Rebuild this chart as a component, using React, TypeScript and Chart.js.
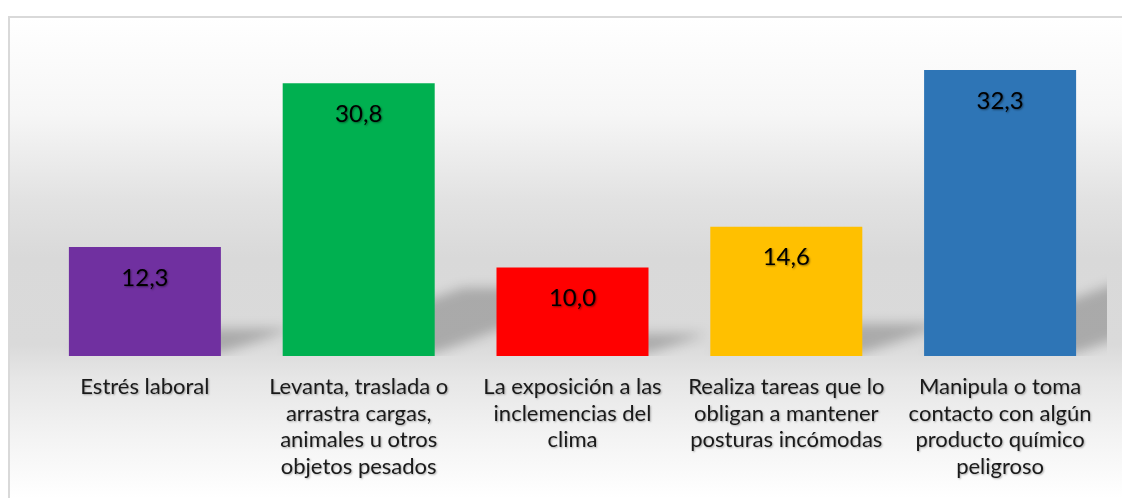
import React, { useEffect, useRef } from "react";
import { Chart, registerables } from "chart.js";

Chart.register(...registerables);

const categories: string[][] = [
  ["Estrés laboral"],
  ["Levanta, traslada o", "arrastra cargas,", "animales u otros", "objetos pesados"],
  ["La exposición a las", "inclemencias del", "clima"],
  ["Realiza tareas que lo", "obligan a mantener", "posturas incómodas"],
  ["Manipula o toma", "contacto con algún", "producto químico", "peligroso"],
];
const values: number[] = [12.3, 30.8, 10.0, 14.6, 32.3];
const valueLabels: string[] = ["12,3", "30,8", "10,0", "14,6", "32,3"];
const barColors: string[] = ["#7030a0", "#00b050", "#ff0000", "#ffc000", "#2e75b6"];

const FONT = "Lato, 'Noto Sans', sans-serif";

const shadowPlugin = {
  id: "perspShadow",
  beforeDatasetsDraw(chart: any) {
    const { ctx, chartArea } = chart;
    const meta = chart.getDatasetMeta(0);
    ctx.save();
    ctx.beginPath();
    ctx.rect(chartArea.left, chartArea.top, chartArea.right - chartArea.left, chartArea.bottom - chartArea.top);
    ctx.clip();
    ctx.filter = "blur(6px)";
    ctx.fillStyle = "rgba(0,0,0,0.22)";
    meta.data.forEach((bar: any) => {
      const p = bar.getProps(["x", "y", "base", "width"], true);
      const L = p.x - p.width / 2;
      const R = p.x + p.width / 2;
      const h = p.base - p.y;
      const kh = h * 0.25;
      const d = h * 0.66;
      ctx.beginPath();
      ctx.moveTo(L, p.base - 3);
      ctx.lineTo(R, p.base - 3);
      ctx.lineTo(R + d, p.base - kh);
      ctx.lineTo(L + d, p.base - kh);
      ctx.closePath();
      ctx.fill();
    });
    ctx.restore();
  },
};

const labelPlugin = {
  id: "labelsDraw",
  afterDatasetsDraw(chart: any) {
    const { ctx, chartArea } = chart;
    const meta = chart.getDatasetMeta(0);
    const xScale = chart.scales.x;
    ctx.save();
    ctx.textAlign = "center";
    ctx.textBaseline = "middle";
    ctx.shadowColor = "rgba(0,0,0,0.45)";
    ctx.shadowBlur = 2;
    ctx.shadowOffsetX = 1;
    ctx.shadowOffsetY = 1;
    ctx.fillStyle = "#000000";
    ctx.font = `24px ${FONT}`;
    meta.data.forEach((bar: any, i: number) => {
      const p = bar.getProps(["x", "y"], true);
      ctx.fillText(valueLabels[i], p.x, p.y + 31);
    });
    ctx.fillStyle = "#1a1a1a";
    ctx.font = `22px ${FONT}`;
    ctx.shadowColor = "rgba(0,0,0,0.3)";
    categories.forEach((lines, i) => {
      const x = xScale.getPixelForValue(i);
      lines.forEach((line, j) => {
        ctx.fillText(line, x, chartArea.bottom + 31 + j * 26.5);
      });
    });
    ctx.restore();
  },
};

export default function App() {
  const ref = useRef<HTMLCanvasElement | null>(null);
  useEffect(() => {
    document.body.style.overflow = "hidden";
    if (!ref.current) return;
    const chart = new Chart(ref.current, {
      type: "bar",
      data: {
        labels: categories.map((c) => c.join(" ")),
        datasets: [
          {
            data: values,
            backgroundColor: barColors,
            borderWidth: 0,
            barPercentage: 0.711,
            categoryPercentage: 1,
          },
        ],
      },
      options: {
        animation: false,
        responsive: false,
        maintainAspectRatio: false,
        layout: { padding: { left: 28, right: 15, top: 28, bottom: 142 } },
        plugins: { legend: { display: false }, tooltip: { enabled: false } },
        scales: {
          x: { display: false },
          y: { display: false, min: 0, max: 35 },
        },
      },
      plugins: [shadowPlugin, labelPlugin],
    });
    return () => chart.destroy();
  }, []);
  return (
    <div
      style={{
        position: "absolute",
        left: 8,
        top: 16,
        width: 1114,
        height: 482,
        boxSizing: "border-box",
        borderTop: "2px solid #d9d9d9",
        borderLeft: "2px solid #d9d9d9",
        background:
          "linear-gradient(to bottom, #ffffff 0%, #f6f6f6 20%, #e2e2e2 38%, #d9d9d9 50%, #dadada 68%, #e6e6e6 75%, #f4f4f4 88%, #ffffff 100%)",
      }}
    >
      <canvas ref={ref} width={1112} height={480} style={{ position: "absolute", left: 0, top: 0, width: 1112, height: 480 }} />
    </div>
  );
}
